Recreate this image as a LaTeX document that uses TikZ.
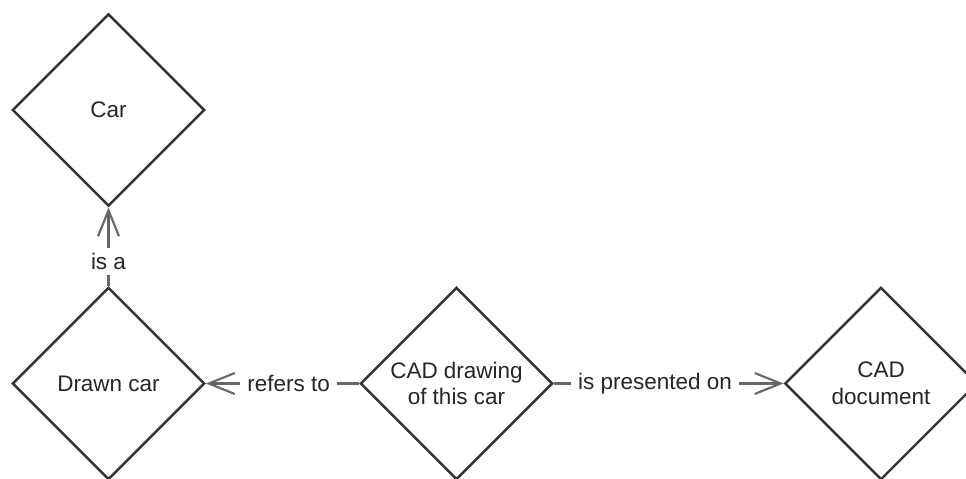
\documentclass[tikz,border=0pt]{standalone}
\usepackage{fontspec}
\setmainfont{Liberation Sans}
\usetikzlibrary{shapes.geometric,arrows.meta}
\tikzset{
  ent/.style={diamond, draw=black!80, line width=1.4pt, fill=white,
    minimum width=3.85cm, minimum height=3.85cm, inner sep=0pt,
    align=center, font=\fontsize{12.8}{15.2}\selectfont, text=black!85},
  rel/.style={draw=black!60, line width=1.2pt,
    -{Straight Barb[length=0.52cm, width=0.42cm, line width=1.2pt]}},
  lbl/.style={fill=white, inner xsep=4pt, inner ysep=3pt,
    font=\fontsize{12.8}{15.2}\selectfont, text=black!85}
}
\begin{document}
\begin{tikzpicture}[x=0.02cm, y=-0.02cm]
\useasboundingbox (0,0) rectangle (966,479);
\clip (0,0) rectangle (966,479);
\node[ent] (car) at (108.5,110) {Car};
\node[ent] (drawn) at (108.5,383.5) {Drawn car};
\node[ent] (cad) at (456.5,383.5) {CAD drawing\\of this car};
\node[ent] (doc) at (881,383.5) {CAD\\document};
\draw[rel] (drawn.north) -- node[lbl, pos=0.31] {is a} (car.south);
\draw[rel] (cad.west) -- node[lbl, pos=0.46] {refers to} (drawn.east);
\draw[rel] (cad.east) -- node[lbl, pos=0.44] {is presented on} (doc.west);
\end{tikzpicture}
\end{document}
